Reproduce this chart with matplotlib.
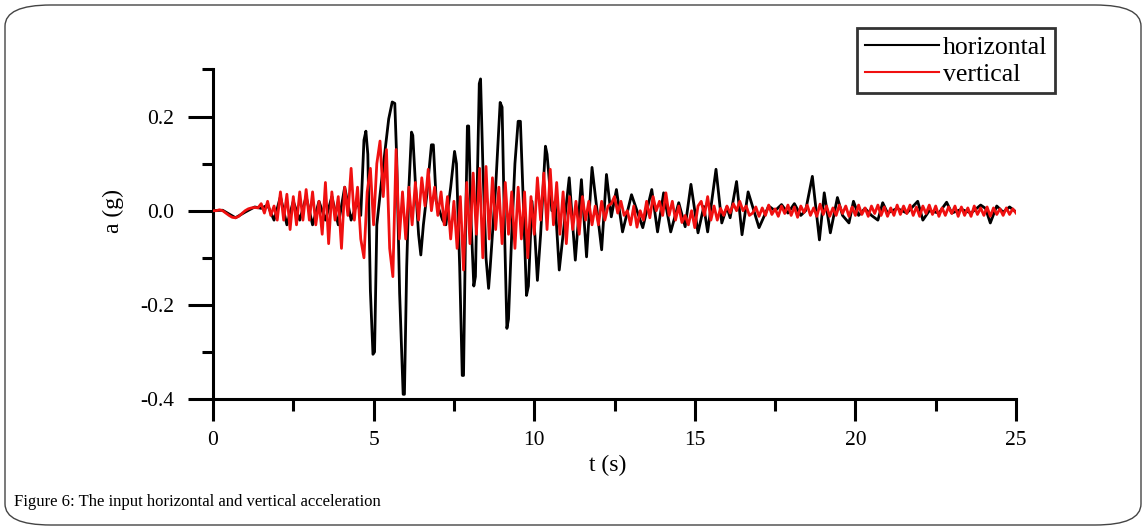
import numpy as np
import matplotlib
matplotlib.use("Agg")
import matplotlib.pyplot as plt
from matplotlib.patches import FancyBboxPatch

# ---------------- data ----------------
# horizontal acceleration: points (time s, acceleration g)
h_t = [0, 0.3, 0.7, 1.0, 1.3, 1.5, 1.7, 1.9, 2.1, 2.3, 2.5, 2.7, 2.9, 3.1, 3.3,
       3.5, 3.7, 3.9, 4.1, 4.3, 4.5, 4.6, 4.7, 4.76, 4.82, 4.9, 4.98, 5.03,
       5.1, 5.25, 5.47, 5.58, 5.66, 5.72, 5.81, 5.92, 5.96, 6.03, 6.1, 6.18,
       6.22, 6.3, 6.4, 6.47, 6.55, 6.65, 6.8, 6.86, 6.95, 7.05, 7.15, 7.25,
       7.4, 7.52, 7.58, 7.68, 7.76, 7.8, 7.86, 7.92, 7.96, 8.04, 8.12, 8.17,
       8.24, 8.29, 8.33, 8.4, 8.5, 8.58, 8.63, 8.8, 8.94, 9.0, 9.08, 9.15,
       9.2, 9.3, 9.4, 9.5, 9.57, 9.66, 9.76, 9.82, 9.93, 10.02, 10.1, 10.2,
       10.35, 10.4, 10.55, 10.65, 10.78, 11.09, 11.28,
       11.47, 11.63, 11.8, 12.1, 12.25, 12.4, 12.56, 12.75, 13.03, 13.38,
       13.66, 13.84, 14.03, 14.25, 14.5, 14.7, 14.88, 15.1, 15.28, 15.4,
       15.66, 15.84, 16.0, 16.1, 16.3, 16.47, 16.66, 17.0, 17.3, 17.5, 17.7,
       17.9, 18.1, 18.3, 18.45, 18.66, 18.88, 19.03, 19.22, 19.44, 19.6, 19.8,
       19.94, 20.1, 20.3, 20.5, 20.7, 20.85, 21.0, 21.3, 21.6, 21.94, 22.1,
       22.3, 22.6, 22.84, 23.0, 23.3, 23.6, 23.9, 24.05, 24.2, 24.4, 24.6,
       24.8, 24.95]
h_a = [0, 0.001, -0.015, -0.003, 0.008, 0.005, 0.012, -0.02, 0.03, -0.03,
       0.02, -0.02, 0.03, -0.03, 0.02, -0.02, 0.03, -0.03, 0.05, -0.02, 0.02,
       -0.01, 0.15, 0.169, 0.12, -0.17, -0.305, -0.3,
       -0.03, 0.065, 0.195, 0.231, 0.228, 0.11, -0.175, -0.39, -0.39, -0.12,
       0.05, 0.167, 0.16, 0.06, -0.05, -0.094, -0.03, 0.03, 0.14, 0.14, 0.02,
       0.0, -0.02, -0.03, 0.05, 0.126, 0.1, -0.12, -0.35, -0.35, -0.05, 0.18,
       0.18, -0.03, -0.16, -0.14, 0.1, 0.27, 0.28, 0.1, -0.1, -0.165, -0.12,
       0.05, 0.23, 0.22, -0.05, -0.25, -0.23, -0.05, 0.1, 0.19, 0.19, 0.02,
       -0.18, -0.16, 0.02, -0.05, -0.148, -0.05, 0.137, 0.12, 0.0, 0.02,
       -0.126, 0.07, -0.105,
       0.066, -0.098, 0.092, -0.083, 0.077, -0.013, 0.045, -0.045, 0.034,
       -0.036, 0.045, -0.045, 0.038, -0.045, 0.017, -0.034, 0.056, -0.047,
       0.009, -0.045, 0.088, -0.026, 0.008, -0.015, 0.062, -0.051, 0.04,
       -0.036, 0.01, 0.0, 0.013, -0.005, 0.015, -0.01, 0.0, 0.073, -0.062,
       0.038, -0.047, 0.028, -0.01, -0.026, 0.02, -0.01, 0.005, -0.01, -0.02,
       0.017, -0.005, 0.005, -0.005, 0.02, -0.02, 0.0, -0.005, 0.018, -0.005,
       0.003, -0.005, 0.012, 0.005, -0.026, 0.01, -0.003, 0.008, 0.0]

# vertical acceleration sampled every 0.1 s from 0 to 25 s
v_dt = 0.1
v_a = [
    0.0, 0.0, 0.002, 0.0, -0.005, -0.01, -0.014, -0.015, -0.012, -0.006,
    0.0, 0.004, 0.006, 0.007, 0.006, 0.015, -0.005, 0.02, -0.01, 0.01,
    -0.02, 0.04, -0.02, 0.035, -0.04, 0.03, -0.03, 0.04, -0.02, 0.045,
    -0.02, 0.04, -0.03, 0.02, -0.05, 0.06, -0.07, 0.04, -0.02, 0.03,
    -0.08, 0.05, -0.01, 0.09, -0.02, 0.05, -0.06, -0.1, 0.04, 0.09,
    -0.03, 0.1, 0.148, 0.03, 0.13, -0.08, -0.14, 0.13, -0.06, 0.04,
    -0.06, 0.05, -0.03, 0.06, -0.02, 0.07, 0.01, 0.088, 0.0, 0.05,
    -0.01, 0.04, -0.03, 0.03, -0.06, 0.02, -0.08, 0.03, -0.126, 0.06,
    -0.07, 0.08, -0.05, 0.09, -0.1, 0.094, -0.06, 0.07, -0.04, 0.05,
    -0.07, 0.06, -0.05, 0.04, -0.08, 0.05, -0.06, 0.04, -0.1, 0.03,
    -0.05, 0.07, -0.02, 0.08, -0.04, 0.088, -0.03, 0.06, -0.05, 0.04,
    -0.07, 0.03, -0.04, 0.02, -0.05, 0.03, -0.02, 0.02, -0.03, 0.01,
    -0.03, 0.02, -0.02, 0.01, 0.015, 0.03, -0.005, 0.02, -0.01, 0.0,
    -0.03, 0.01, -0.035, 0.0, -0.02, 0.02, -0.015, 0.03, 0.0, 0.02,
    -0.01, 0.038, -0.01, 0.02, -0.02, 0.01, -0.025, -0.01, -0.03, 0.0,
    -0.036, 0.01, 0.02, -0.01, 0.03, -0.02, 0.01, -0.02, 0.005, -0.01,
    0.01, -0.005, 0.015, 0.0, 0.02, 0.0, 0.01, -0.01, -0.005, 0.008,
    -0.012, 0.006, -0.01, 0.012, -0.008, 0.004, -0.012, 0.01, -0.006, 0.012,
    -0.01, 0.008, -0.014, 0.01, -0.004, 0.012, -0.01, 0.006, -0.012, 0.014,
    -0.008, 0.01, -0.012, 0.006, -0.01, 0.012, -0.006, 0.01, -0.012, 0.008,
    -0.01, 0.012, -0.008, 0.006, -0.012, 0.01, -0.006, 0.012, -0.01, 0.008,
    -0.012, 0.006, -0.01, 0.012, -0.008, 0.01, -0.006, 0.012, -0.01, 0.008,
    -0.012, 0.01, -0.006, 0.012, -0.008, 0.01, -0.012, 0.006, -0.01, 0.008,
    -0.006, 0.01, -0.012, 0.008, -0.01, 0.006, -0.012, 0.01, -0.008, 0.006,
    -0.01, 0.008, -0.012, 0.006, -0.008, 0.004, -0.01, 0.006, -0.008, 0.004,
    -0.005]
v_t = np.arange(len(v_a)) * v_dt

series_names = ["horizontal", "vertical"]
x_ticks = [0, 5, 10, 15, 20, 25]
x_minor = [2.5, 7.5, 12.5, 17.5, 22.5]
y_ticks = [-0.4, -0.2, 0.0, 0.2]
y_minor = [-0.3, -0.1, 0.1, 0.3]
y_tick_labels = ["-0.4", "-0.2", "0.0", "0.2"]

# ---------------- figure ----------------
W, H = 1146, 529
fig = plt.figure(figsize=(W / 100, H / 100), dpi=100)
serif = ["Liberation Serif", "DejaVu Serif"]

ax = fig.add_axes([213 / W, 1 - 399 / H, 803 / W, 329.5 / H])
l1, = ax.plot(h_t, h_a, color="black", lw=2.0, label=series_names[0],
              zorder=2, solid_joinstyle="round")
l2, = ax.plot(v_t, v_a, color="#f01010", lw=2.0, label=series_names[1],
              zorder=3, solid_joinstyle="round")

ax.set_xlim(0, 25)
ax.set_ylim(-0.4, 0.3)
for s in ["top", "right"]:
    ax.spines[s].set_visible(False)
for s in ["left", "bottom"]:
    ax.spines[s].set_linewidth(2.2)

ax.set_xticks(x_ticks)
ax.set_xticklabels([str(v) for v in x_ticks], fontfamily=serif, fontsize=15.5)
ax.set_xticks(x_minor, minor=True)
ax.set_yticks(y_ticks)
ax.set_yticklabels(y_tick_labels, fontfamily=serif, fontsize=15.5)
ax.set_yticks(y_minor, minor=True)
ax.tick_params(axis="x", which="major", direction="out", length=16, width=2.2, pad=7)
ax.tick_params(axis="x", which="minor", direction="out", length=8.6, width=2.2)
ax.tick_params(axis="y", which="major", direction="out", length=18, width=2.2, pad=10)
ax.tick_params(axis="y", which="minor", direction="out", length=8, width=2.2)

fig.text(608 / W, 1 - 465 / H, "t (s)", fontfamily=serif, fontsize=17,
         ha="center", va="center")
fig.text(113 / W, 1 - 211 / H, "a (g)", fontfamily=serif, fontsize=17,
         ha="center", va="center", rotation=90)

leg = fig.legend(handles=[l1, l2], loc="upper left",
                 bbox_to_anchor=(857 / W, 1 - 28 / H),
                 prop={"family": serif, "size": 18.5}, frameon=True,
                 fancybox=False, edgecolor="black", borderpad=0.3,
                 handlelength=2.9, handletextpad=0.15, labelspacing=0.15,
                 borderaxespad=0)
leg.get_frame().set_linewidth(2.0)
for ln in leg.get_lines():
    ln.set_linewidth(1.5)

fig.text(14 / W, 1 - 502 / H, "Figure 6: The input horizontal and vertical acceleration",
         fontfamily=serif, fontsize=12, va="center", ha="left")

frame = FancyBboxPatch((5 / W, 4 / H), 1136 / W, 520 / H,
                       boxstyle="round,pad=0,rounding_size=0.04",
                       transform=fig.transFigure, fill=False,
                       edgecolor="#444444", linewidth=1.0)
fig.patches.append(frame)

fig.savefig("out.png", dpi=100)
